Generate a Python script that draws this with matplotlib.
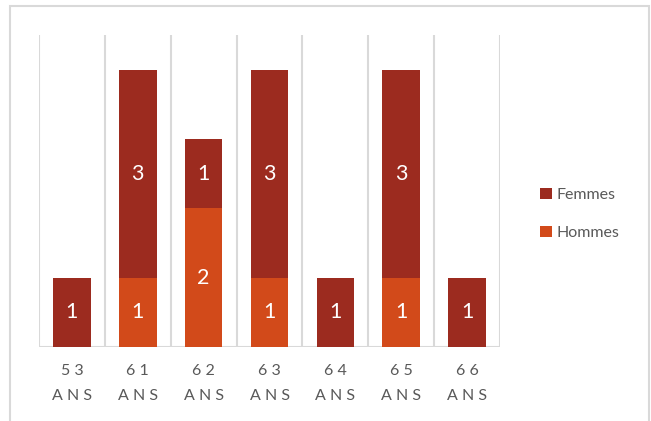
import matplotlib
matplotlib.use("Agg")
import matplotlib.pyplot as plt
from matplotlib.patches import Rectangle
import numpy as np

categories = ["53 ANS", "61 ANS", "62 ANS", "63 ANS", "64 ANS", "65 ANS", "66 ANS"]
hommes = [0, 1, 2, 1, 0, 1, 0]
femmes = [1, 3, 1, 3, 1, 3, 1]

c_f = "#9C2B1F"
c_h = "#D24A1A"
grid_c = "#D9D9D9"
txt_c = "#595959"

plt.rcParams["font.family"] = ["Lato", "DejaVu Sans"]

W, H = 651, 421
fig = plt.figure(figsize=(W / 100, H / 100), dpi=100)
fig.patch.set_facecolor("white")
fig.patches.append(Rectangle((9.5 / W, -0.1), (649 - 9.5) / W, 1.1 - 6.5 / H,
                             transform=fig.transFigure, fill=False,
                             edgecolor="#D9D9D9", linewidth=1.5))

ax = fig.add_axes([39 / W, 1 - 347 / H, (500 - 39) / W, (347 - 35) / H])
x = np.arange(len(categories))
w = 0.57
h_arr = np.array(hommes)
f_arr = np.array(femmes)
ax.bar(x, h_arr, w, color=c_h, label="Hommes", zorder=3)
ax.bar(x, f_arr, w, bottom=h_arr, color=c_f, label="Femmes", zorder=3)

for i in range(len(x)):
    if hommes[i] > 0:
        ax.text(x[i], hommes[i] / 2, str(hommes[i]), color="white", ha="center",
                va="center", fontsize=15.5, zorder=4)
    if femmes[i] > 0:
        ax.text(x[i], hommes[i] + femmes[i] / 2, str(femmes[i]), color="white",
                ha="center", va="center", fontsize=15.5, zorder=4)

ax.set_xlim(-0.5, len(categories) - 0.5)
ax.set_ylim(0, 4.5)
for b in np.arange(-0.5, len(categories), 1.0):
    ax.axvline(b, color=grid_c, linewidth=1.5, zorder=1)
ax.axhline(0, color=grid_c, linewidth=1.5, zorder=2)
for s in ax.spines.values():
    s.set_visible(False)
ax.set_yticks([])
ax.set_xticks(x)
ax.set_xticklabels([" ".join(c.split()[0]) + "\n" + " ".join(c.split()[1]) for c in categories],
                   fontsize=11.5, color=txt_c, linespacing=2.0)
ax.tick_params(axis="x", length=0, pad=12)

handles, labels = ax.get_legend_handles_labels()
leg = fig.legend(handles[::-1], labels[::-1], loc="center left",
                 bbox_to_anchor=(526 / W, 1 - 214 / H), frameon=False,
                 fontsize=11.5, labelcolor=txt_c, handlelength=0.7, handleheight=0.7,
                 handletextpad=0.3, labelspacing=1.45)

fig.savefig("out.png", dpi=100, facecolor="white")
